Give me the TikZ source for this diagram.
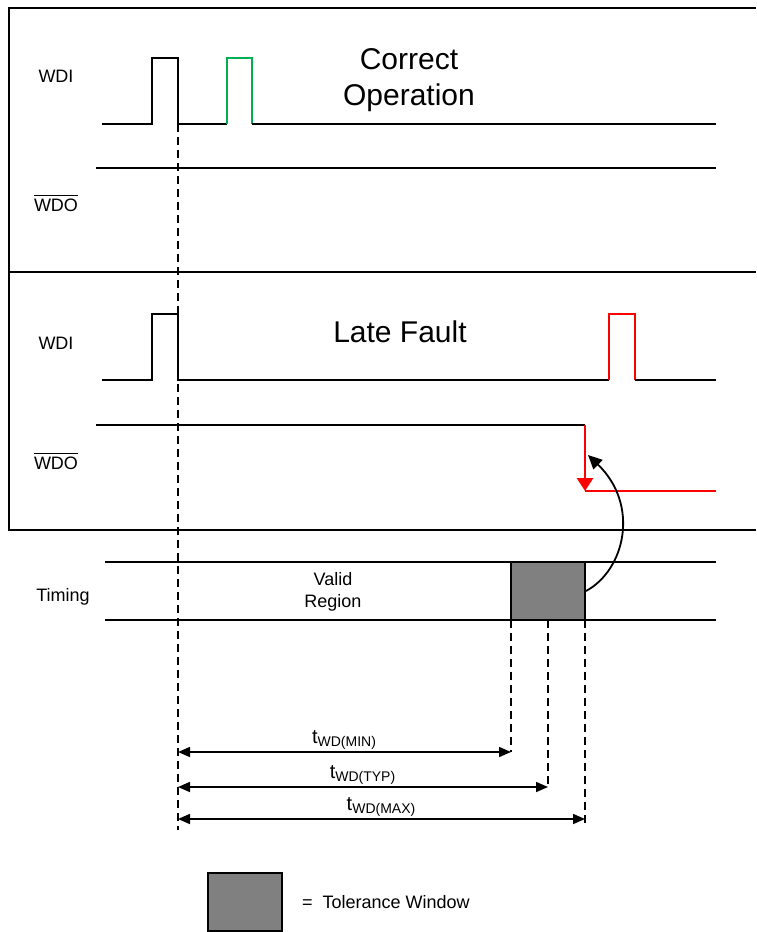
\documentclass[tikz,border=0pt]{standalone}
\usepackage{fontspec}
\setmainfont{Liberation Sans}
\usepackage{xcolor}
\usetikzlibrary{arrows.meta, positioning, calc}

\definecolor{pulsegreen}{RGB}{0,176,80}

\begin{document}
\begin{tikzpicture}[x=0.5pt, y=-0.5pt,
  sig/.style={line width=1.35pt},
  frame/.style={line width=1.1pt},
  guide/.style={line width=0.6pt, dash pattern=on 4pt off 2.5pt},
  lbl/.style={font=\fontsize{9}{11}\selectfont},
  tlbl/.style={font=\fontsize{10}{12}\selectfont},
  title/.style={font=\fontsize{15}{18}\selectfont, align=center},
  dim/.style={{Triangle[length=6pt,width=5pt]}-{Triangle[length=6pt,width=5pt]}, line width=0.8pt},
  tol/.style={draw, line width=1pt, fill=gray, minimum width=37pt, minimum height=29pt, inner sep=0pt},
]
  \useasboundingbox (0,0) rectangle (756,932);

  % panels
  \draw[frame] (756,8) -- (9,8) -- (9,530) -- (756,530);
  \draw[frame] (9,272) -- (756,272);

  % correct operation
  \node[lbl] (wdiA) at (56,76) {WDI};
  \node[lbl] (wdoA) at (56,203) {$\overline{\mbox{WDO}}$};
  \node[title] (ttlA) at (409,80) {Correct\\Operation};
  \draw[sig] (102,124) -| (152,58) -| (178,124) -- (227,124);
  \draw[sig, pulsegreen] (227,124) |- (252,58) -- (252,124);
  \draw[sig] (252,124) -- (716,124);
  \draw[sig] (96,168) -- (716,168);

  % late fault
  \node[lbl] (wdiB) at (56,343) {WDI};
  \node[lbl] (wdoB) at (56,461) {$\overline{\mbox{WDO}}$};
  \node[title] (ttlB) at (400,332) {Late Fault};
  \draw[sig] (102,380) -| (152,314) -| (178,380) -- (609,380);
  \draw[sig, red] (609,380) |- (635,314) -- (635,380);
  \draw[sig] (635,380) -- (716,380);
  \draw[sig] (96,425) -- (585,425);
  \coordinate (fall) at (585,491);
  \draw[sig, red, -{Triangle[length=6.5pt,width=8pt]}] (585,425) -- (fall);
  \draw[sig, red] (fall) -- (716,491);

  % timing
  \node[lbl] (tim) at (63,597) {Timing};
  \node[lbl, align=center] (valid) at (333,592) {Valid\\Region};
  \draw[sig] (105,562) -- (716,562);
  \draw[sig] (105,620) -- (716,620);
  \node[tol] (win) at (548,591) {};
  \coordinate (hit) at (588,455);
  \draw[line width=0.9pt, -{Triangle[length=7pt,width=6.5pt]}] (win.east) .. controls (625,570) and (640,505) .. (hit);

  % guides
  \draw[guide] (178,124) -- (178,830);
  \draw[guide] (511,620) -- (511,752);
  \draw[guide] (548,620) -- (548,787);
  \draw[guide] (585,620) -- (585,825);

  % durations
  \draw[dim] (178,752) -- node[tlbl, above, inner sep=1pt] (tmin) {t\textsubscript{WD(MIN)}} (511,752);
  \draw[dim] (178,787) -- node[tlbl, above, inner sep=1pt] (ttyp) {t\textsubscript{WD(TYP)}} (548,787);
  \draw[dim] (178,819) -- node[tlbl, above, inner sep=1pt] (tmax) {t\textsubscript{WD(MAX)}} (585,819);

  % key
  \node[tol] (key) at (245,902) {};
  \node[lbl, right=6pt of key] (keytxt) {=\ \ Tolerance Window};
\end{tikzpicture}
\end{document}
